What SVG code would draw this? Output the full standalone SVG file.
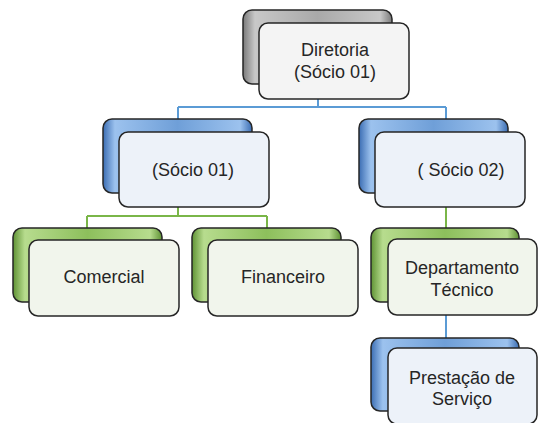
<svg xmlns="http://www.w3.org/2000/svg" width="539" height="423" viewBox="0 0 539 423">
<defs>
<linearGradient id="gGrey" x1="0" y1="0" x2="1" y2="0">
<stop offset="0" stop-color="#7a7a7a"/><stop offset="0.08" stop-color="#c8c8c8"/><stop offset="0.5" stop-color="#a9a9a9"/><stop offset="0.92" stop-color="#c8c8c8"/><stop offset="1" stop-color="#7a7a7a"/>
</linearGradient>
<linearGradient id="gBlue" x1="0" y1="0" x2="1" y2="0">
<stop offset="0" stop-color="#3b6db3"/><stop offset="0.08" stop-color="#9cc2ee"/><stop offset="0.5" stop-color="#6f9fd8"/><stop offset="0.92" stop-color="#9cc2ee"/><stop offset="1" stop-color="#3b6db3"/>
</linearGradient>
<linearGradient id="gGreen" x1="0" y1="0" x2="1" y2="0">
<stop offset="0" stop-color="#5f9234"/><stop offset="0.08" stop-color="#b7dc8e"/><stop offset="0.5" stop-color="#8dbf5c"/><stop offset="0.92" stop-color="#b7dc8e"/><stop offset="1" stop-color="#5f9234"/>
</linearGradient>
</defs>
<style>
.back{stroke:#262626;stroke-width:1.5}
.fg{stroke:#262626;stroke-width:1.5}
.fgGrey{fill:#f4f4f4}
.fgBlue{fill:#edf2f9}
.fgGreen{fill:#f1f5ec}
.t{font-family:"Liberation Sans",Arial,sans-serif;font-size:18px;fill:#262626;text-anchor:middle}
.cb{stroke:#5b9bd5;stroke-width:2;fill:none}
.cg{stroke:#7ab648;stroke-width:2;fill:none}
</style>
<g id="connectors">
<path class="cb" d="M318 99V107M178 107H446M178 107V119M446 107V119"/>
<path class="cg" d="M178 207V216M87 216H267M87 216V228M267 216V228"/>
<path class="cg" d="M446 207V228"/>
<path class="cb" d="M446 315V338"/>
</g>
<g id="n_diretoria">
<rect class="back" x="243" y="10" width="149" height="74" rx="9" fill="url(#gGrey)"/>
<rect class="fg fgGrey" x="259" y="23" width="150" height="76" rx="9"/>
<text class="t" x="335" y="56">Diretoria</text>
<text class="t" x="335" y="78">(Sócio 01)</text>
</g>
<g id="n_socio01">
<rect class="back" x="103" y="119" width="149" height="74" rx="9" fill="url(#gBlue)"/>
<rect class="fg fgBlue" x="119" y="132" width="150" height="75" rx="9"/>
<text class="t" x="193" y="176">(Sócio 01)</text>
</g>
<g id="n_socio02">
<rect class="back" x="359" y="119" width="149" height="74" rx="9" fill="url(#gBlue)"/>
<rect class="fg fgBlue" x="375" y="132" width="150" height="75" rx="9"/>
<text class="t" x="461" y="176">( Sócio 02)</text>
</g>
<g id="n_comercial">
<rect class="back" x="13" y="228" width="149" height="74" rx="9" fill="url(#gGreen)"/>
<rect class="fg fgGreen" x="29" y="240" width="150" height="76" rx="9"/>
<text class="t" x="104" y="283">Comercial</text>
</g>
<g id="n_financeiro">
<rect class="back" x="192" y="228" width="149" height="74" rx="9" fill="url(#gGreen)"/>
<rect class="fg fgGreen" x="208" y="240" width="150" height="76" rx="9"/>
<text class="t" x="283" y="283">Financeiro</text>
</g>
<g id="n_depto">
<rect class="back" x="371" y="228" width="148" height="74" rx="9" fill="url(#gGreen)"/>
<rect class="fg fgGreen" x="388" y="239" width="149" height="76" rx="9"/>
<text class="t" x="462" y="274">Departamento</text>
<text class="t" x="462" y="295.5">Técnico</text>
</g>
<g id="n_prestacao">
<rect class="back" x="371" y="338" width="148" height="73" rx="9" fill="url(#gBlue)"/>
<rect class="fg fgBlue" x="388" y="348" width="149" height="76" rx="9"/>
<text class="t" x="462" y="383.5">Prestação de</text>
<text class="t" x="462" y="405">Serviço</text>
</g>
</svg>
